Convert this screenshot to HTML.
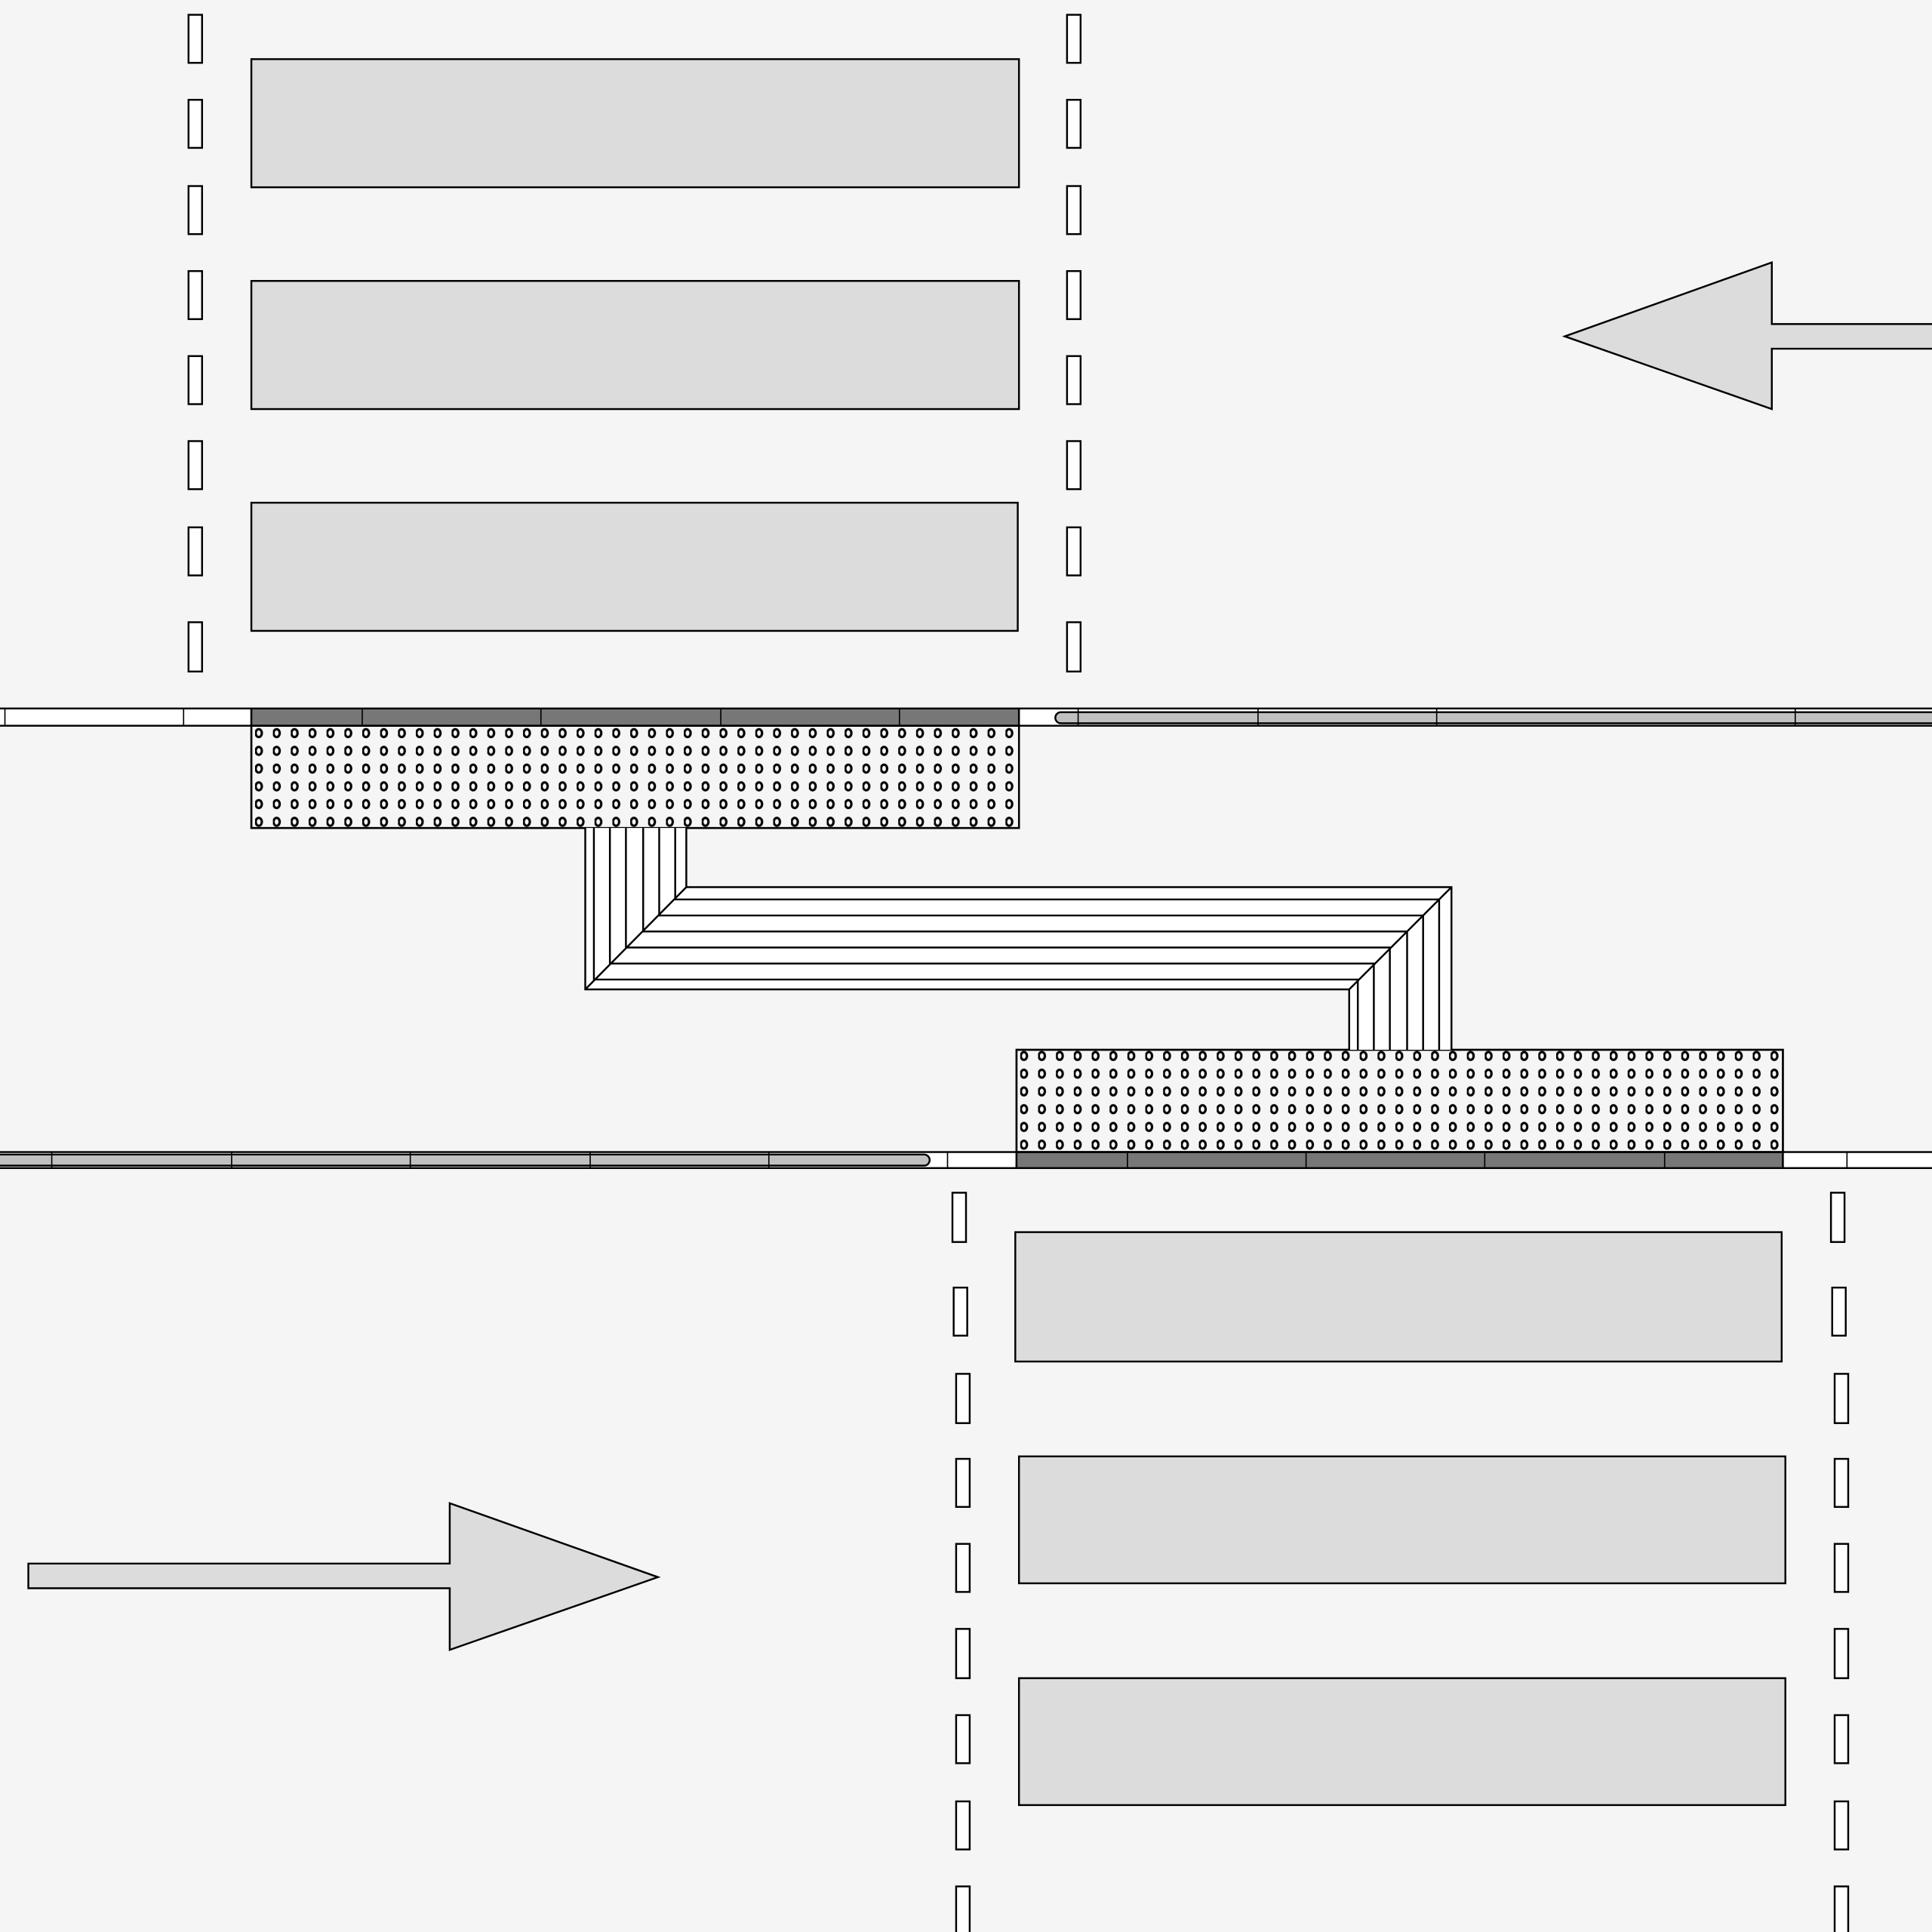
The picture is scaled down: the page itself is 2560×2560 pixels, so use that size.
<!DOCTYPE html>
<html><head><meta charset="utf-8"><style>html,body{margin:0;padding:0;background:#f5f5f5}svg{display:block}</style></head>
<body>
<svg width="2560" height="2560" viewBox="0 0 1568 1568" xmlns="http://www.w3.org/2000/svg">
<defs>
<pattern id="dots" x="207" y="588" width="14.5" height="14.4" patternUnits="userSpaceOnUse">
<ellipse cx="3" cy="7" rx="2.5" ry="3.2" fill="none" stroke="#000" stroke-width="1.9"/>
</pattern>
<pattern id="dots2" x="828" y="851" width="14.5" height="14.4" patternUnits="userSpaceOnUse">
<ellipse cx="3" cy="6" rx="2.5" ry="3.2" fill="none" stroke="#000" stroke-width="1.9"/>
</pattern>
</defs>
<rect width="1568" height="1568" fill="#f5f5f5"/>
<g fill="#fff" stroke="#000" stroke-width="1.5">
<rect x="153" y="12" width="11" height="39"/><rect x="153" y="81" width="11" height="39"/><rect x="153" y="151" width="11" height="39"/><rect x="153" y="220" width="11" height="39"/><rect x="153" y="289" width="11" height="39"/><rect x="153" y="358" width="11" height="39"/><rect x="153" y="428" width="11" height="39"/><rect x="153" y="505" width="11" height="40"/>
<rect x="866" y="12" width="11" height="39"/><rect x="866" y="81" width="11" height="39"/><rect x="866" y="151" width="11" height="39"/><rect x="866" y="220" width="11" height="39"/><rect x="866" y="289" width="11" height="39"/><rect x="866" y="358" width="11" height="39"/><rect x="866" y="428" width="11" height="39"/><rect x="866" y="505" width="11" height="40"/>
<rect x="773" y="968" width="11" height="40"/><rect x="774" y="1045" width="11" height="39"/><rect x="776" y="1115" width="11" height="40"/><rect x="776" y="1184" width="11" height="39"/><rect x="776" y="1253" width="11" height="39"/><rect x="776" y="1322" width="11" height="40"/><rect x="776" y="1392" width="11" height="39"/><rect x="776" y="1462" width="11" height="39"/><rect x="776" y="1531" width="11" height="40"/>
<rect x="1486" y="968" width="11" height="40"/><rect x="1487" y="1045" width="11" height="39"/><rect x="1489" y="1115" width="11" height="40"/><rect x="1489" y="1184" width="11" height="39"/><rect x="1489" y="1253" width="11" height="39"/><rect x="1489" y="1322" width="11" height="40"/><rect x="1489" y="1392" width="11" height="39"/><rect x="1489" y="1462" width="11" height="39"/><rect x="1489" y="1531" width="11" height="40"/>
</g>
<g fill="#dcdcdc" stroke="#000" stroke-width="1.5">
<rect x="204" y="48" width="623" height="104"/><rect x="204" y="228" width="623" height="104"/><rect x="204" y="408" width="622" height="104"/>
<rect x="824" y="1000" width="622" height="105"/><rect x="827" y="1182" width="622" height="103"/><rect x="827" y="1362" width="622" height="103"/>
<polygon points="1270,273 1438,213 1438,263 1570,263 1570,283 1438,283 1438,332"/>
<polygon points="23,1269 365,1269 365,1220 534,1280 365,1339 365,1289 23,1289"/>
</g>
<g stroke="#000" stroke-width="1.5">
<rect x="-2" y="575" width="206" height="14" fill="#fff"/>
<rect x="204" y="575" width="623" height="14" fill="#777"/>
<rect x="827" y="575" width="745" height="14" fill="#fff"/>
<path d="M1570,578 H861 a4.5,4.5 0 0 0 0,9 H1570" fill="#c0c0c0"/>
<path d="M4,575V589M149,575V589M294,575V589M439,575V589M585,575V589M730,575V589M875,575V589M1021,575V589M1166,575V589M1457,575V589" stroke-width="1"/>
<rect x="204" y="589" width="623" height="83" fill="url(#dots)"/>
<rect x="204" y="589" width="623" height="83" fill="none"/>
</g>
<g stroke="#000" stroke-width="1.5">
<rect x="-2" y="935" width="827" height="13" fill="#fff"/>
<path d="M-2,937 H750 a4.5,4.5 0 0 1 0,9 H-2" fill="#c0c0c0"/>
<rect x="825" y="935" width="622" height="13" fill="#777"/>
<rect x="1447" y="935" width="125" height="13" fill="#fff"/>
<path d="M42,935V948M188,935V948M333,935V948M479,935V948M624,935V948M769,935V948M915,935V948M1060,935V948M1205,935V948M1351,935V948M1499,935V948" stroke-width="1"/>
<rect x="825" y="852" width="622" height="83" fill="url(#dots2)"/>
<rect x="825" y="852" width="622" height="83" fill="none"/>
</g>
<g stroke="#000" stroke-width="1.5" fill="none">
<polygon points="475,672 557,672 557,720 1178,720 1178,852 1095,852 1095,803 475,803" fill="#fff" stroke="none"/>
<polyline points="475,672 475,803 1095,803 1095,852"/>
<polyline points="482,672 482,795 1102,795 1102,852"/>
<polyline points="495,672 495,782 1115,782 1115,852"/>
<polyline points="508,672 508,769 1128,769 1128,852"/>
<polyline points="522,672 522,756 1142,756 1142,852"/>
<polyline points="535,672 535,743 1155,743 1155,852"/>
<polyline points="548,672 548,730 1168,730 1168,852"/>
<polyline points="557,672 557,720 1178,720 1178,852"/>
<line x1="475" y1="803" x2="557" y2="720"/>
<line x1="1095" y1="803" x2="1178" y2="720"/>
</g>
</svg>
</body></html>
